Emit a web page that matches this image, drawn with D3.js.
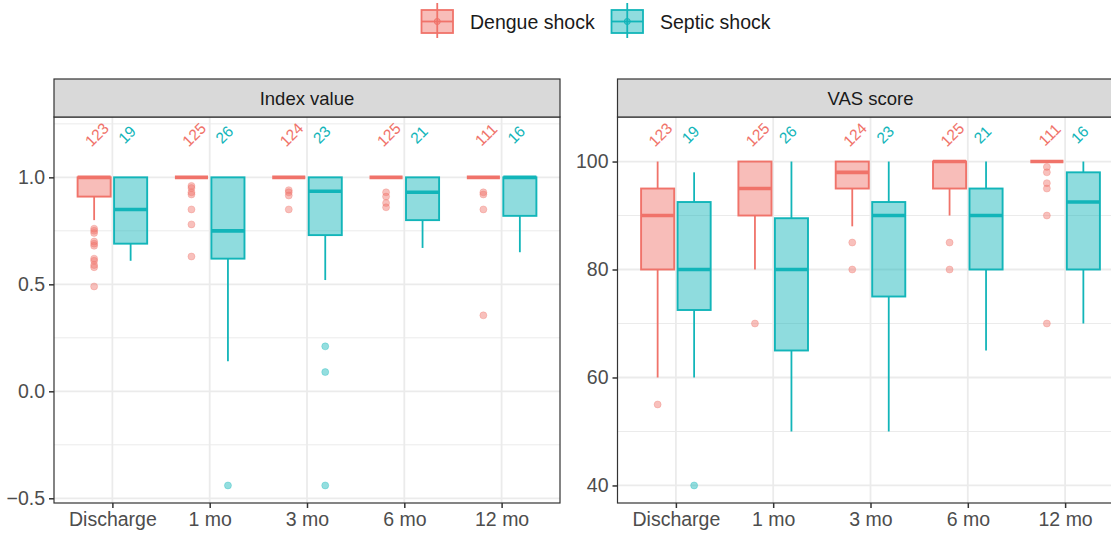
<!DOCTYPE html>
<html>
<head>
<meta charset="utf-8">
<script src="https://cdn.jsdelivr.net/npm/d3@7"></script>
<style>
  body { margin: 0; background: #fff; }
  svg { display: block; font-family: "Liberation Sans", Arial, sans-serif; }
</style>
</head>
<body>
<div id="chart"></div>
<script>
// categories / groups
var categories = ["Discharge", "1 mo", "3 mo", "6 mo", "12 mo"];
var groups = ["Dengue shock", "Septic shock"];
var nDengue = [123, 125, 124, 125, 111];
var nSeptic = [19, 26, 23, 21, 16];

// box stats per category: [whisker low, q1, median, q3, whisker high]
var indexDengue = [[0.80, 0.91, 1, 1, 1], [1, 1, 1, 1, 1], [1, 1, 1, 1, 1], [1, 1, 1, 1, 1], [1, 1, 1, 1, 1]];
var indexSeptic = [[0.61, 0.69, 0.85, 1, 1], [0.14, 0.62, 0.75, 1, 1], [0.52, 0.73, 0.935, 1, 1], [0.67, 0.80, 0.93, 1, 1], [0.65, 0.82, 1, 1, 1]];
var indexDengueOut = [[0.76, 0.75, 0.74, 0.70, 0.69, 0.68, 0.62, 0.61, 0.59, 0.58, 0.49], [0.96, 0.95, 0.93, 0.92, 0.85, 0.78, 0.63], [0.94, 0.93, 0.915, 0.85], [0.93, 0.91, 0.88, 0.86], [0.93, 0.92, 0.85, 0.355]];
var indexSepticOut = [[], [-0.44], [0.21, 0.09, -0.44], [], []];

var vasDengue = [[60, 80, 90, 95, 100], [80, 90, 95, 100, 100], [88, 95, 98, 100, 100], [90, 95, 100, 100, 100], [100, 100, 100, 100, 100]];
var vasSeptic = [[60, 72.5, 80, 92.5, 98], [50, 65, 80, 89.5, 100], [50, 75, 90, 92.5, 100], [65, 80, 90, 95, 100], [70, 80, 92.5, 98, 100]];
var vasDengueOut = [[55], [70], [85, 80], [85, 80], [99, 98, 96, 95, 90, 70]];
var vasSepticOut = [[40], [], [], [], []];

var colors = ["#F0736A", "#12B5B9"];

var W = 1111, H = 535;
var stripTop = 79, panelTop = 117, panelBottom = 503;

var svg = d3.select("#chart").append("svg")
  .attr("width", W).attr("height", H);

var panels = [
  { title: "Index value", x0: 54, x1: 560, stats: [indexDengue, indexSeptic], outs: [indexDengueOut, indexSepticOut],
    labelY: 1.2, ticks: [-0.5, 0, 0.5, 1], minor: [-0.25, 0.25, 0.75, 1.25], fmt: d3.format(".1f") },
  { title: "VAS score", x0: 617.5, x1: 1123.5, stats: [vasDengue, vasSeptic], outs: [vasDengueOut, vasSepticOut],
    labelY: 105, ticks: [40, 60, 80, 100], minor: [50, 70, 90], fmt: d3.format("d") }
];

panels.forEach(function (p) {
  var all = [p.labelY];
  p.stats.forEach(function (s) { s.forEach(function (r) { all = all.concat(r); }); });
  p.outs.forEach(function (s) { s.forEach(function (r) { all = all.concat(r); }); });
  var lo = d3.min(all), hi = d3.max(all), pad = (hi - lo) * 0.05;

  var x = d3.scalePoint().domain(categories).range([p.x0, p.x1]).padding(0.6);
  var step = x.step();
  var y = d3.scaleLinear().domain([lo - pad, hi + pad]).range([panelBottom, panelTop]);

  var g = svg.append("g");

  g.append("rect").attr("x", p.x0).attr("y", panelTop)
    .attr("width", p.x1 - p.x0).attr("height", panelBottom - panelTop).attr("fill", "#fff");

  // grid
  g.selectAll(".minor").data(p.minor.filter(function (d) { return y(d) > panelTop; })).enter().append("line")
    .attr("x1", p.x0).attr("x2", p.x1).attr("y1", y).attr("y2", y)
    .attr("stroke", "#ebebeb").attr("stroke-width", 1);
  g.selectAll(".major").data(p.ticks).enter().append("line")
    .attr("x1", p.x0).attr("x2", p.x1).attr("y1", y).attr("y2", y)
    .attr("stroke", "#ebebeb").attr("stroke-width", 1.8);
  g.selectAll(".vgrid").data(categories).enter().append("line")
    .attr("x1", x).attr("x2", x).attr("y1", panelTop).attr("y2", panelBottom)
    .attr("stroke", "#ebebeb").attr("stroke-width", 1.8);

  var offs = [-0.1875 * step, 0.1875 * step];
  var bw = 0.34 * step;

  [0, 1].forEach(function (gi) {
    var col = colors[gi];
    var bg = g.append("g");
    p.stats[gi].forEach(function (s, ci) {
      var cx = x(categories[ci]) + offs[gi];
      // whiskers
      bg.append("line").attr("x1", cx).attr("x2", cx).attr("y1", y(s[0])).attr("y2", y(s[1]))
        .attr("stroke", col).attr("stroke-width", 1.8);
      bg.append("line").attr("x1", cx).attr("x2", cx).attr("y1", y(s[3])).attr("y2", y(s[4]))
        .attr("stroke", col).attr("stroke-width", 1.8);
      bg.append("rect").attr("x", cx - bw / 2).attr("y", y(s[3]))
        .attr("width", bw).attr("height", y(s[1]) - y(s[3]))
        .attr("fill", col).attr("fill-opacity", 0.47)
        .attr("stroke", col).attr("stroke-width", 1.9);
      bg.append("line").attr("x1", cx - bw / 2).attr("x2", cx + bw / 2)
        .attr("y1", y(s[2])).attr("y2", y(s[2]))
        .attr("stroke", col).attr("stroke-width", 3.6);
    });
    p.outs[gi].forEach(function (arr, ci) {
      var cx = x(categories[ci]) + offs[gi];
      bg.selectAll(null).data(arr).enter().append("circle")
        .attr("cx", cx).attr("cy", y).attr("r", 3.5)
        .attr("fill", col).attr("fill-opacity", 0.45)
        .attr("stroke", col).attr("stroke-opacity", 0.3).attr("stroke-width", 1);
    });
    // n labels
    var ns = gi == 0 ? nDengue : nSeptic;
    g.selectAll(null).data(ns).enter().append("text")
      .attr("transform", function (d, i) {
        return "translate(" + (x(categories[i]) + (gi == 0 ? -0.16 : 0.15) * step) + "," + y(p.labelY) + ") rotate(-45)";
      })
      .attr("text-anchor", "middle").attr("dominant-baseline", "central")
      .attr("font-size", 15.5).attr("fill", col)
      .text(function (d) { return d; });
  });

  // panel border
  g.append("rect").attr("x", p.x0).attr("y", panelTop)
    .attr("width", p.x1 - p.x0).attr("height", panelBottom - panelTop)
    .attr("fill", "none").attr("stroke", "#333").attr("stroke-width", 1.2);

  // strip
  g.append("rect").attr("x", p.x0).attr("y", stripTop)
    .attr("width", p.x1 - p.x0).attr("height", panelTop - stripTop)
    .attr("fill", "#d9d9d9").attr("stroke", "#333").attr("stroke-width", 1.2);
  g.append("text").attr("x", (p.x0 + p.x1) / 2).attr("y", (stripTop + panelTop) / 2)
    .attr("text-anchor", "middle").attr("dominant-baseline", "central")
    .attr("font-size", 18.5).attr("fill", "#1a1a1a").text(p.title);

  // axes
  var ya = g.append("g").attr("transform", "translate(" + p.x0 + ",0)")
    .call(d3.axisLeft(y).tickValues(p.ticks).tickFormat(p.fmt).tickSize(5).tickPadding(4));
  var xa = g.append("g").attr("transform", "translate(0," + panelBottom + ")")
    .call(d3.axisBottom(x).tickSize(5).tickPadding(4));
  [ya, xa].forEach(function (a) {
    a.select(".domain").remove();
    a.selectAll("line").attr("stroke", "#333").attr("stroke-width", 1.5);
    a.selectAll("text").attr("fill", "#4d4d4d").attr("font-size", 19.5).attr("font-family", "Liberation Sans, Arial, sans-serif");
  });
});

// legend
var leg = svg.append("g");
var keyX = [421.5, 611.5], txtX = [470, 660];
groups.forEach(function (name, i) {
  var col = colors[i], kx = keyX[i], kw = 31.5, cx = kx + kw / 2;
  leg.append("line").attr("x1", cx).attr("x2", cx).attr("y1", 3).attr("y2", 38)
    .attr("stroke", col).attr("stroke-width", 1.8);
  leg.append("rect").attr("x", kx).attr("y", 10).attr("width", kw).attr("height", 23)
    .attr("fill", col).attr("fill-opacity", 0.47).attr("stroke", col).attr("stroke-width", 1.8);
  leg.append("line").attr("x1", kx).attr("x2", kx + kw).attr("y1", 21.5).attr("y2", 21.5)
    .attr("stroke", col).attr("stroke-width", 1.8);
  leg.append("circle").attr("cx", cx).attr("cy", 21.5).attr("r", 3)
    .attr("fill", col).attr("fill-opacity", 0.4).attr("stroke", col).attr("stroke-width", 1);
  leg.append("text").attr("x", txtX[i]).attr("y", 22).attr("dominant-baseline", "central")
    .attr("font-size", 19.5).attr("fill", "#1a1a1a").text(name);
});
</script>
</body>
</html>
